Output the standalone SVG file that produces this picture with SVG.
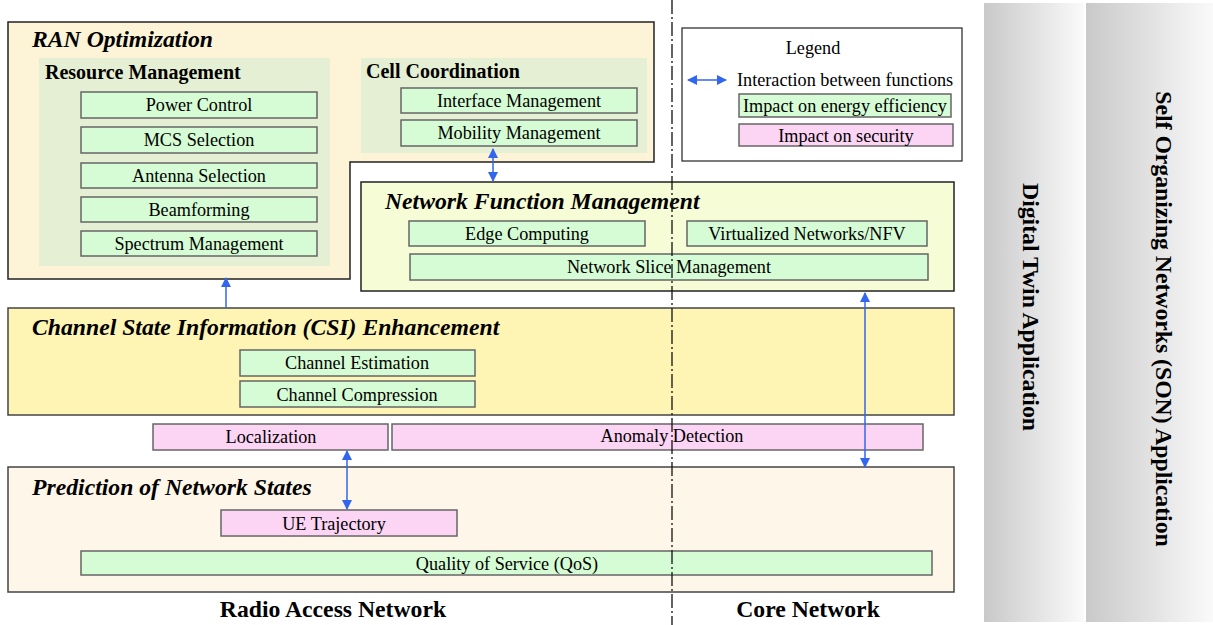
<svg xmlns="http://www.w3.org/2000/svg" width="1213" height="625" viewBox="0 0 1213 625">
<defs>
<linearGradient id="band" x1="0" y1="0" x2="1" y2="0">
<stop offset="0" stop-color="#c9c9c9"/>
<stop offset="1" stop-color="#fafafa"/>
</linearGradient>
<marker id="ah" viewBox="0 0 10 10" refX="9" refY="5" markerWidth="10" markerHeight="10" markerUnits="userSpaceOnUse" orient="auto-start-reverse">
<path d="M0,0 L10,5 L0,10 z" fill="#3366ee"/>
</marker>
<style>
text{font-family:"Liberation Serif","Times New Roman",serif;fill:#000}
.tx{font-size:18.2px;text-anchor:middle}
.hda{font-size:23.7px;font-weight:bold;font-style:italic}
.hdb{font-size:20px;font-weight:bold}
.bg{font-size:23.7px;font-weight:bold;text-anchor:middle}
.gbox{fill:#d5fcd5;stroke:#666;stroke-width:1.5}
.pbox{fill:#fcd5f5;stroke:#666;stroke-width:1.5}
.sub{fill:#e4efd3}
.con{stroke:#3366ee;stroke-width:1.5;fill:none}
</style>
</defs>
<rect width="1213" height="625" fill="#fff"/>

<g id="bands">
<rect x="984" y="3" width="100" height="619" fill="url(#band)"/>
<rect x="1086" y="3" width="127" height="619" fill="url(#band)"/>
<text class="bg" transform="translate(1030,307) rotate(90)" x="0" y="7">Digital Twin Application</text>
<text class="bg" transform="translate(1163,319) rotate(90)" x="0" y="7">Self Organizing Networks (SON) Application</text>
</g>

<g id="ran-optimization">
<path d="M8,22 H654 V162 H350 V279 H8 Z" fill="#fdf3d6" stroke="#222" stroke-width="1.5"/>
<text class="hda" x="32" y="47">RAN Optimization</text>
<g id="resource-management">
<rect class="sub" x="39" y="58" width="291" height="208"/>
<text class="hdb" x="45" y="79">Resource Management</text>
<rect class="gbox" x="81" y="92" width="236" height="26"/><text class="tx" x="199" y="111">Power Control</text>
<rect class="gbox" x="81" y="127" width="236" height="26"/><text class="tx" x="199" y="146">MCS Selection</text>
<rect class="gbox" x="81" y="163" width="236" height="25"/><text class="tx" x="199" y="182">Antenna Selection</text>
<rect class="gbox" x="81" y="197" width="236" height="25"/><text class="tx" x="199" y="216">Beamforming</text>
<rect class="gbox" x="81" y="231" width="236" height="25"/><text class="tx" x="199" y="250">Spectrum Management</text>
</g>
<g id="cell-coordination">
<rect class="sub" x="361" y="58" width="286" height="95"/>
<text class="hdb" x="366" y="78">Cell Coordination</text>
<rect class="gbox" x="401" y="88" width="236" height="25"/><text class="tx" x="519" y="107">Interface Management</text>
<rect class="gbox" x="401" y="120" width="236" height="26"/><text class="tx" x="519" y="139">Mobility Management</text>
</g>
</g>

<g id="legend">
<rect x="682" y="28" width="280" height="133" fill="#fff" stroke="#222" stroke-width="1.2"/>
<text class="tx" x="813" y="54">Legend</text>
<line class="con" x1="688" y1="80" x2="726" y2="80" marker-start="url(#ah)" marker-end="url(#ah)"/>
<text x="737" y="86" style="font-size:18.2px">Interaction between functions</text>
<rect class="gbox" x="739" y="94" width="212" height="23"/><text class="tx" x="845" y="112">Impact on energy efficiency</text>
<rect class="pbox" x="739" y="124" width="214" height="22"/><text class="tx" x="846" y="142">Impact on security</text>
</g>

<g id="network-function-management">
<rect x="361" y="182" width="593" height="109" fill="#f6fcd6" stroke="#222" stroke-width="1.5"/>
<text class="hda" x="385" y="209">Network Function Management</text>
<rect class="gbox" x="409" y="221" width="236" height="25"/><text class="tx" x="527" y="240">Edge Computing</text>
<rect class="gbox" x="687" y="221" width="240" height="25"/><text class="tx" x="807" y="240">Virtualized Networks/NFV</text>
<rect class="gbox" x="410" y="254" width="518" height="26"/><text class="tx" x="669" y="273">Network Slice Management</text>
</g>

<g id="csi-enhancement">
<rect x="8" y="308" width="946" height="107" fill="#fef4b4" stroke="#444" stroke-width="1.5"/>
<text class="hda" x="32" y="335">Channel State Information (CSI) Enhancement</text>
<rect class="gbox" x="240" y="350" width="235" height="26"/><text class="tx" x="357" y="369">Channel Estimation</text>
<rect class="gbox" x="240" y="381" width="235" height="26"/><text class="tx" x="357" y="401">Channel Compression</text>
</g>

<g id="security-functions">
<rect class="pbox" x="153" y="424" width="235" height="26"/><text class="tx" x="271" y="443">Localization</text>
<rect class="pbox" x="392" y="424" width="531" height="26"/><text class="tx" x="672" y="442">Anomaly Detection</text>
</g>

<g id="prediction-of-network-states">
<rect x="8" y="467" width="946" height="125" fill="#fef6e8" stroke="#444" stroke-width="1.5"/>
<text class="hda" x="32" y="495">Prediction of Network States</text>
<rect class="pbox" x="221" y="510" width="236" height="26"/><text class="tx" x="334" y="530">UE Trajectory</text>
<rect class="gbox" x="81" y="551" width="851" height="24"/><text class="tx" x="507" y="570">Quality of Service (QoS)</text>
</g>

<g id="divider">
<line x1="672" y1="0" x2="672" y2="625" stroke="#111" stroke-width="1.3" stroke-dasharray="14,3,2,3"/>
</g>

<g id="connectors">
<line class="con" x1="493" y1="149" x2="493" y2="181" marker-start="url(#ah)" marker-end="url(#ah)"/>
<line class="con" x1="226" y1="308" x2="226" y2="278" marker-end="url(#ah)"/>
<line class="con" x1="347" y1="451" x2="347" y2="509" marker-start="url(#ah)" marker-end="url(#ah)"/>
<line class="con" x1="865" y1="293" x2="865" y2="467" marker-start="url(#ah)" marker-end="url(#ah)"/>
</g>

<g id="labels">
<text class="bg" x="333" y="617">Radio Access Network</text>
<text class="bg" x="808" y="617">Core Network</text>
</g>
</svg>
